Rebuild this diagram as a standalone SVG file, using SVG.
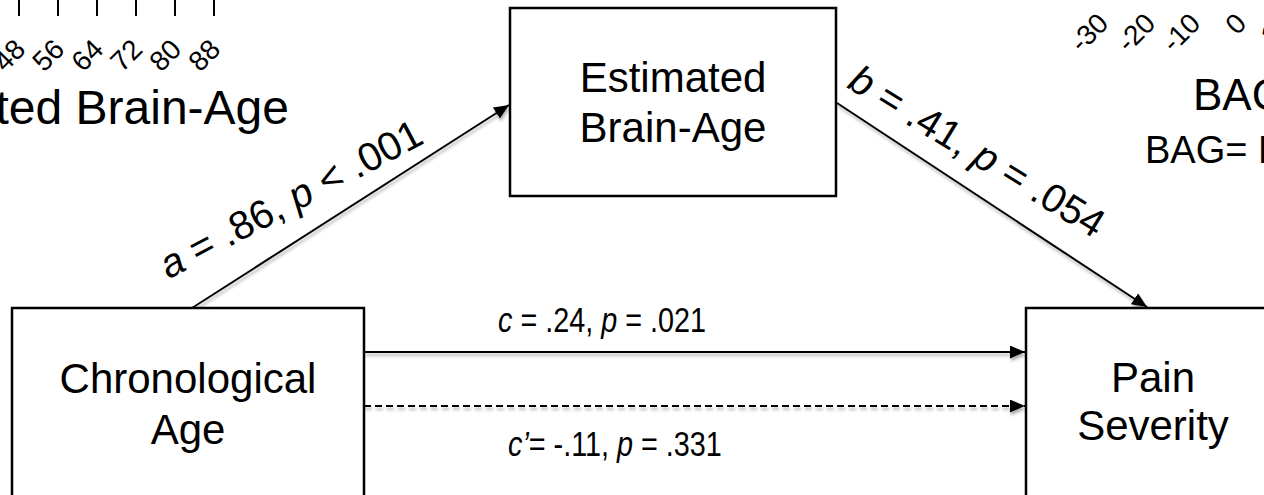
<svg xmlns="http://www.w3.org/2000/svg" width="1264" height="495" viewBox="0 0 1264 495">
  <style>
    .box { fill: #fff; stroke: #000; stroke-width: 2.5; }
    .node-text { font-family: "Liberation Sans", Arial, sans-serif; font-size: 42px; fill: #000; text-anchor: middle; }
    .lbl { font-family: "Liberation Sans", Arial, sans-serif; font-size: 36px; fill: #000; }
    .rlbl { font-family: "Liberation Sans", Arial, sans-serif; font-size: 40px; fill: #000; text-anchor: middle; }
    .it { font-style: italic; }
    .conn { stroke: #000; stroke-width: 2; fill: none; marker-end: url(#arrow); }
    .dash { stroke-dasharray: 7 4; }
    .tick { stroke: #000; stroke-width: 2; }
    .axlbl { font-family: "Liberation Sans", Arial, sans-serif; font-size: 28px; fill: #000; text-anchor: end; }
    .axtitle { font-family: "Liberation Sans", Arial, sans-serif; fill: #000; }
  </style>
  <defs>
    <marker id="arrow" markerUnits="userSpaceOnUse" markerWidth="16" markerHeight="14" refX="15" refY="6.5" orient="auto">
      <path d="M0,0 L15,6.5 L0,13 z" fill="#000"/>
    </marker>
    <filter id="shadow" filterUnits="userSpaceOnUse" x="0" y="0" width="1264" height="495">
      <feDropShadow dx="1" dy="3" stdDeviation="1.5" flood-color="#000" flood-opacity="0.3"/>
    </filter>
  </defs>

  <!-- fragment of a scatter plot axis, upper left -->
  <g id="plot-left">
    <line class="tick" x1="19" y1="0" x2="19" y2="16"/>
    <line class="tick" x1="58" y1="0" x2="58" y2="16"/>
    <line class="tick" x1="97" y1="0" x2="97" y2="16"/>
    <line class="tick" x1="136" y1="0" x2="136" y2="16"/>
    <line class="tick" x1="175" y1="0" x2="175" y2="16"/>
    <line class="tick" x1="214" y1="0" x2="214" y2="16"/>
    <text class="axlbl" transform="translate(27,51) rotate(-45)">48</text>
    <text class="axlbl" transform="translate(66,51) rotate(-45)">56</text>
    <text class="axlbl" transform="translate(105,51) rotate(-45)">64</text>
    <text class="axlbl" transform="translate(144,51) rotate(-45)">72</text>
    <text class="axlbl" transform="translate(183,51) rotate(-45)">80</text>
    <text class="axlbl" transform="translate(222,51) rotate(-45)">88</text>
    <text class="axtitle" font-size="48" x="289" y="124" text-anchor="end">ted Brain-Age</text>
  </g>

  <!-- fragment of a scatter plot axis, upper right -->
  <g id="plot-right">
    <text class="axlbl" transform="translate(1110,25) rotate(-45)">-30</text>
    <text class="axlbl" transform="translate(1157,25) rotate(-45)">-20</text>
    <text class="axlbl" transform="translate(1202,25) rotate(-45)">-10</text>
    <text class="axlbl" transform="translate(1248,25) rotate(-45)">0</text>
    <text class="axlbl" transform="translate(1294,25) rotate(-45)">10</text>
    <text class="axtitle" font-size="44" x="1193" y="110">BAG</text>
    <text class="axtitle" font-size="38" x="1145" y="163">BAG= B</text>
  </g>

  <!-- paths between variables -->
  <g id="connectors" filter="url(#shadow)">
    <line class="conn" x1="192" y1="308" x2="509" y2="105"/>
    <line class="conn" x1="837" y1="103" x2="1147" y2="307"/>
    <line class="conn" x1="364" y1="352" x2="1025" y2="352"/>
    <line class="conn dash" x1="364" y1="406" x2="1025" y2="406"/>
  </g>

  <!-- path coefficients; the horizontal ones use a condensed setting -->
  <g id="path-labels">
    <text class="rlbl" transform="translate(297,211) rotate(-28)"><tspan class="it">a</tspan> = .86, <tspan class="it">p</tspan> &lt; .001</text>
    <text class="rlbl" transform="translate(970,163) rotate(31.4)"><tspan class="it">b</tspan> = .41, <tspan class="it">p</tspan> = .054</text>
    <text class="lbl" transform="translate(498,332) scale(0.8,1)"><tspan class="it">c</tspan> = .24, <tspan class="it">p</tspan> = .021</text>
    <text class="lbl" transform="translate(508,456) scale(0.8,1)"><tspan class="it">c’</tspan>= -.11, <tspan class="it">p</tspan> = .331</text>
  </g>

  <g id="node-estimated">
    <rect class="box" x="510" y="8" width="326" height="188"/>
    <text class="node-text" x="673" y="92">Estimated</text>
    <text class="node-text" x="673" y="142">Brain-Age</text>
  </g>

  <g id="node-chronological">
    <rect class="box" x="12" y="308" width="352" height="200"/>
    <text class="node-text" x="188" y="393">Chronological</text>
    <text class="node-text" x="188" y="444">Age</text>
  </g>

  <g id="node-pain">
    <rect class="box" x="1026" y="308" width="260" height="200"/>
    <text class="node-text" x="1153" y="392">Pain</text>
    <text class="node-text" x="1153" y="440">Severity</text>
  </g>
</svg>
